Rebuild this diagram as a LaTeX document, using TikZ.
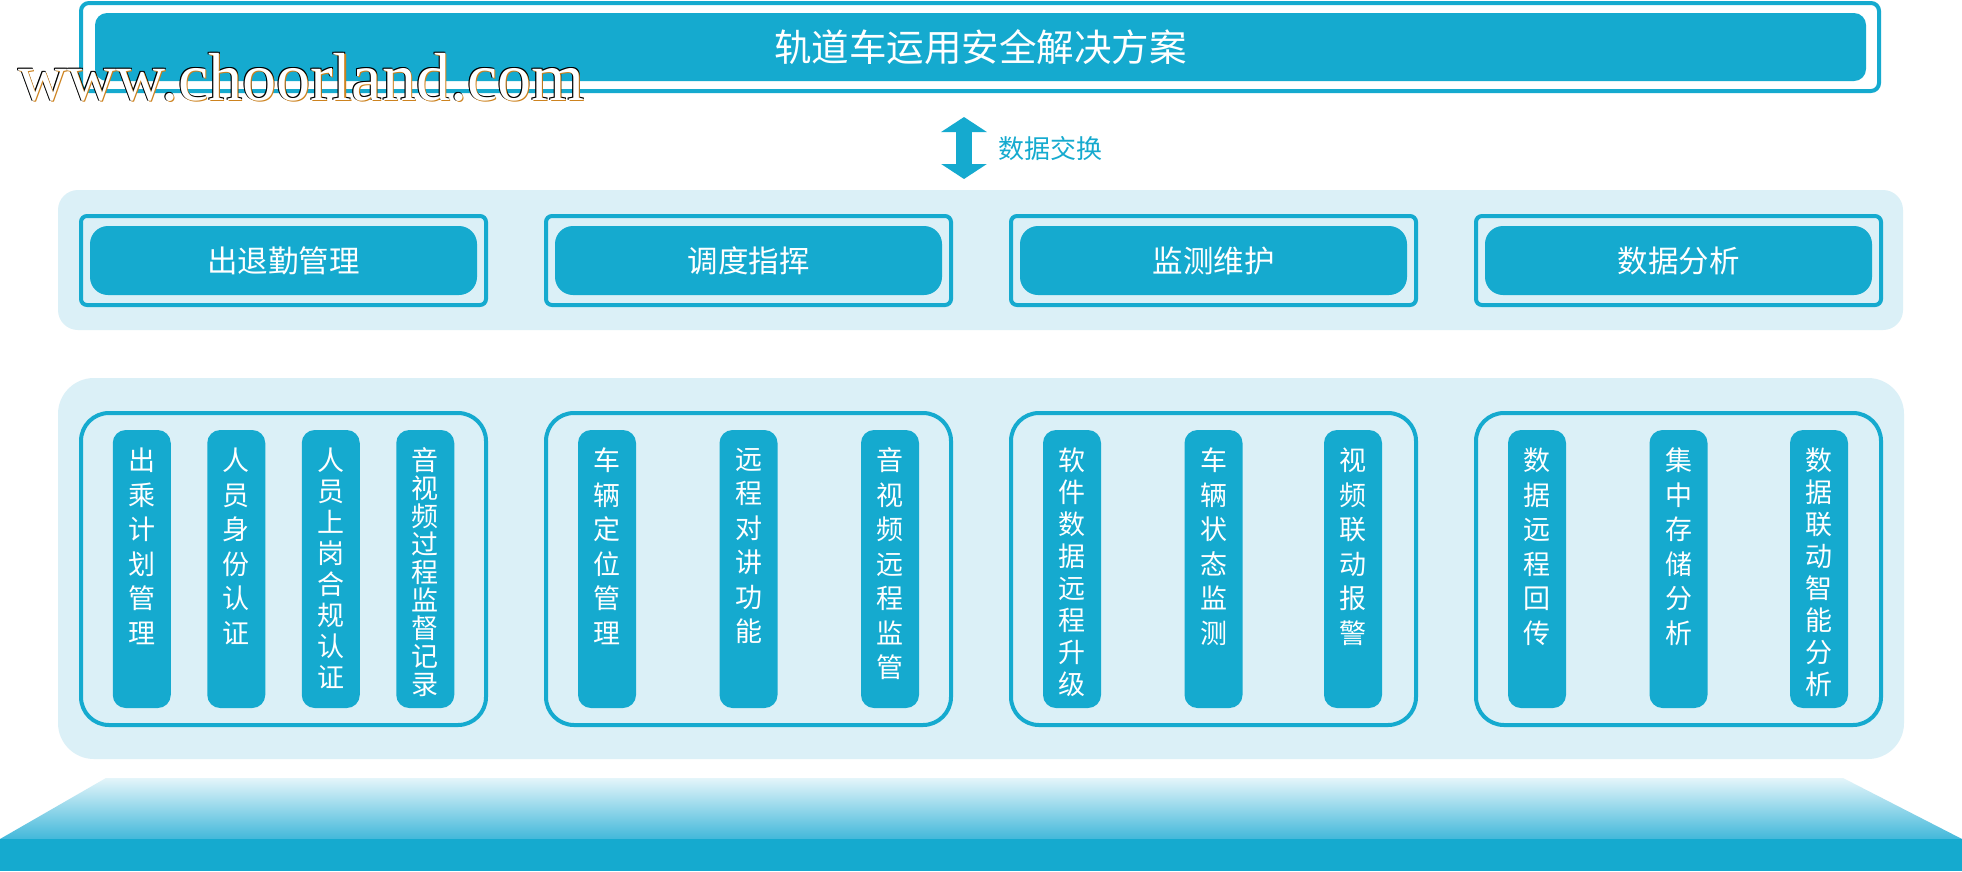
\documentclass[tikz,border=0pt]{standalone}
\usepackage{fontspec}
\newfontfamily\cjk{Noto Sans CJK SC}
\newfontfamily\wmfont{Liberation Serif}
\usetikzlibrary{arrows.meta}
\definecolor{mainblue}{RGB}{21,170,207}
\definecolor{lightbg}{RGB}{219,240,247}
\definecolor{shadetop}{RGB}{228,245,250}
\definecolor{shadebot}{RGB}{66,184,218}
\definecolor{wmorange}{RGB}{205,130,30}
\lineskiplimit=-1000pt
\lineskip=0pt
\newcommand\vcol[4]{%
  \node[colbox] (#1) at (#2,569) {};
  \node[coltext, font={\cjk\fontsize{27}{#3}\selectfont}] (#1t) at ([yshift=-18pt]#1.north) {#4};}
\begin{document}
\begin{tikzpicture}[x=1pt,y=-1pt,
  panel/.style={fill=lightbg, draw=none, inner sep=0, rounded corners=#1},
  frame/.style={draw=mainblue, line width=4pt, inner sep=0, rounded corners=#1},
  bluebox/.style={fill=mainblue, draw=none, inner sep=0, rounded corners=#1, text=white},
  colbox/.style={fill=mainblue, draw=none, inner sep=0, rounded corners=13pt, minimum width=58pt, minimum height=278pt},
  coltext/.style={anchor=north, inner sep=0, align=center, text=white},
  modtext/.style={font={\cjk\fontsize{30.5}{34}\selectfont}},
  wmtext/.style={anchor=base west, inner sep=0, font={\wmfont\fontsize{68}{68}\selectfont}},
]
\useasboundingbox (0,0) rectangle (1962,871);
\fill[white] (0,0) rectangle (1962,871);

% top title box
\node[frame=8pt, minimum width=1798pt, minimum height=88pt] (topframe) at (980,47) {};
\node[bluebox=12pt, minimum width=1771pt, minimum height=68pt, font={\cjk\fontsize{37.5}{40}\selectfont}] (title) at (980.5,47) {轨道车运用安全解决方案};

% data exchange arrow
\coordinate (aT) at (964,117);
\coordinate (aB) at (964,179);
\draw[mainblue, line width=16pt, {Triangle[width=45pt,length=15pt]}-{Triangle[width=45pt,length=15pt]}] (aT) -- (aB);
\node[anchor=west, inner sep=0, text=mainblue, font={\cjk\fontsize{26}{30}\selectfont}] (xlabel) at (998,148.5) {数据交换};

% panels
\node[panel=20pt, minimum width=1845pt, minimum height=140pt] (panelA) at (980.5,260) {};
\node[panel=36pt, minimum width=1846pt, minimum height=381pt] (panelB) at (981,568.5) {};

% modules
\foreach \i/\t in {0/出退勤管理,1/调度指挥,2/监测维护,3/数据分析}{
  \pgfmathsetmacro\gx{283.5+465*\i}
  \node[frame=6pt, minimum width=405pt, minimum height=89pt] (mf\i) at (\gx,260.5) {};
  \node[bluebox=18pt, minimum width=387pt, minimum height=69pt, modtext] (m\i) at (\gx,260.5) {\t};
  \node[frame=28pt, minimum width=405pt, minimum height=312pt] (g\i) at (\gx,569) {};
}

% group 1
\vcol{c11}{141.75}{34.5}{出\\乘\\计\\划\\管\\理}
\vcol{c12}{236.25}{34.5}{人\\员\\身\\份\\认\\证}
\vcol{c13}{330.75}{31}{人\\员\\上\\岗\\合\\规\\认\\证}
\vcol{c14}{425.25}{28}{音\\视\\频\\过\\程\\监\\督\\记\\录}
% group 2
\vcol{c21}{607}{34.5}{车\\辆\\定\\位\\管\\理}
\vcol{c22}{748.5}{34.5}{远\\程\\对\\讲\\功\\能}
\vcol{c23}{890}{34.5}{音\\视\\频\\远\\程\\监\\管}
% group 3
\vcol{c31}{1072}{32}{软\\件\\数\\据\\远\\程\\升\\级}
\vcol{c32}{1213.5}{34.5}{车\\辆\\状\\态\\监\\测}
\vcol{c33}{1353}{34.5}{视\\频\\联\\动\\报\\警}
% group 4
\vcol{c41}{1537}{34.5}{数\\据\\远\\程\\回\\传}
\vcol{c42}{1678.5}{34.5}{集\\中\\存\\储\\分\\析}
\vcol{c43}{1819}{32}{数\\据\\联\\动\\智\\能\\分\\析}

% base platform
\shade[top color=shadetop, bottom color=shadebot] (106,778) -- (1843,778) -- (1962,839) -- (0,839) -- cycle;
\fill[mainblue] (0,839) rectangle (1962,871);

% watermark
\foreach \dx/\dy/\c in {-1/-1/black, -1/0.8/black, 0.8/-1/black, 1.1/1.1/wmorange}{
  \node[wmtext, text=\c] at (18+\dx,100+\dy) {www.choorland.com};
}
\node[wmtext, text=white] (wm) at (18,100) {www.choorland.com};
\end{tikzpicture}
\end{document}
